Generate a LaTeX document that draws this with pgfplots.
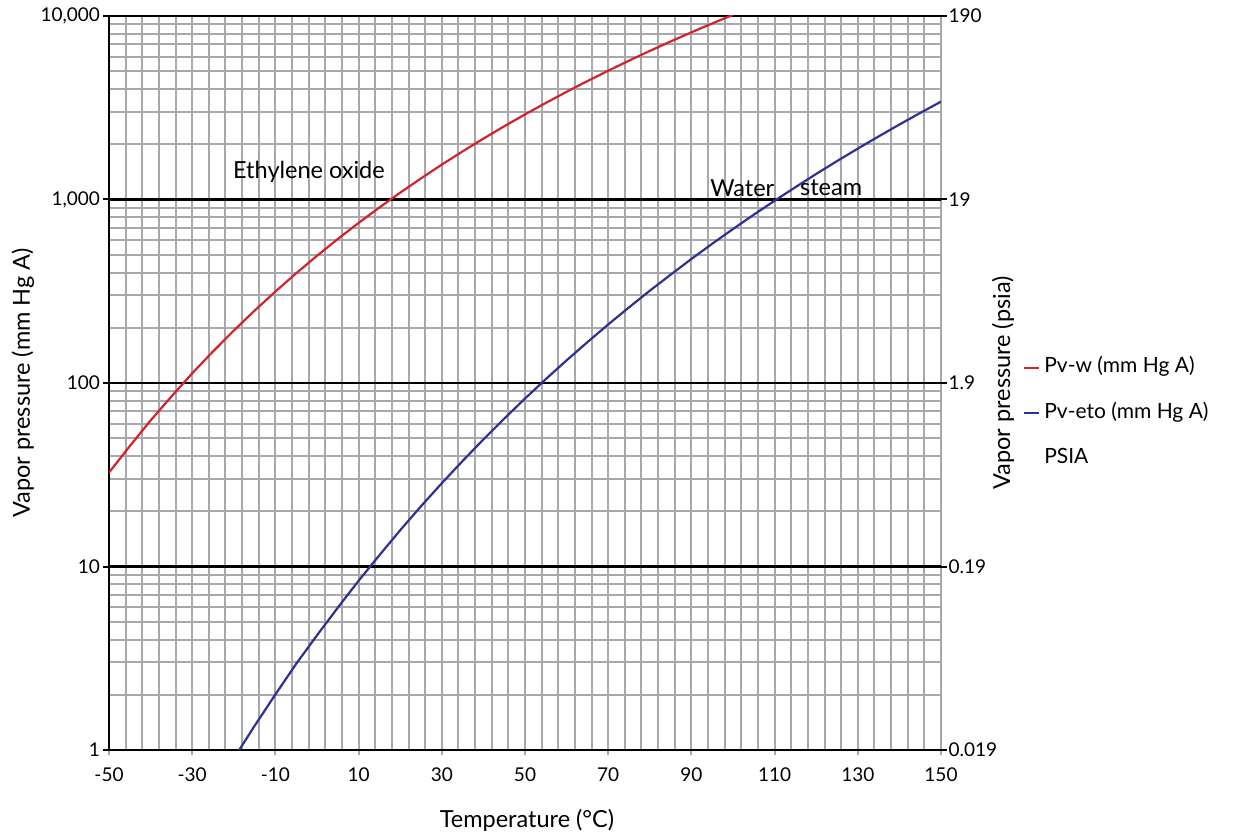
\documentclass[border=0pt]{standalone}
\usepackage{fontspec}
\setmainfont{Lato}
\usepackage{pgfplots}
\pgfplotsset{compat=1.18}
\definecolor{gridgray}{RGB}{166,168,171}
\definecolor{cred}{RGB}{210,35,42}
\definecolor{cblue}{RGB}{46,49,146}
\newcommand{\tickfont}{\fontsize{19}{22}\selectfont}
\newcommand{\labfont}{\fontsize{23.5}{28}\selectfont}
\newcommand{\legfont}{\fontsize{21}{25}\selectfont}
\begin{document}
\begin{tikzpicture}
\path[use as bounding box] (-109pt,-81pt) rectangle (1125pt,750pt);
\begin{axis}[
  at={(0pt,0pt)}, anchor=south west,
  scale only axis, width=832pt, height=734pt,
  xmin=-50, xmax=150,
  ymode=log, ymin=1, ymax=10000,
  xtick={-50,-30,-10,10,30,50,70,90,110,130,150},
  xticklabels={-50,-30,-10,10,30,50,70,90,110,130,150},
  minor xtick={-46,-42,...,146},
  ytick={1,10,100,1000,10000},
  yticklabels={1,10,100,{1,000},{10,000}},
  axis x line*=bottom, axis y line*=left,
  axis line style={black, line width=2.5pt},
  xmajorgrids, xminorgrids, ymajorgrids, yminorgrids,
  major x grid style={gridgray, line width=2pt},
  minor x grid style={gridgray, line width=2pt},
  major y grid style={black, line width=2.5pt},
  minor y grid style={gridgray, line width=2pt},
  tick align=outside,
  major tick length=5.5pt, minor tick length=0pt,
  x tick style={gridgray, line width=2pt},
  y tick style={black, line width=2pt},
  tick label style={font=\tickfont},
  xticklabel style={yshift=-9pt},
  yticklabel style={xshift=0pt},
  xlabel={Temperature (°C)},
  ylabel={Vapor pressure (mm Hg A)},
  xlabel style={at={(axis description cs:0.5024,-0.0954)}, anchor=center, font=\labfont},
  ylabel style={at={(axis description cs:-0.1034,0.5)}, anchor=center, font=\labfont},
  legend style={at={(axis description cs:1.0986,0.5375)}, anchor=north west, draw=none, fill=none, inner sep=0pt, row sep=21.5pt,
    font=\legfont,
    nodes={inner sep=2pt, text height=15pt, text depth=5pt}},
  legend cell align=left,
  legend image code/.code={\draw[#1, line width=2pt] (0pt,0pt) -- (15pt,0pt); \path (17pt,0pt);},
  clip=true,
]
\addplot[cred, line width=2.2pt] coordinates {
(-50,32.5) (-45,45.3) (-40,62.5) (-35,84.4) (-30,112.9) (-25,148.5) (-20,193.1) (-15,248.0) (-10,315.0) (-5,396.4) (0,493.4)
(5,609.2) (10,745.1) (15,904.3) (20,1089.5) (25,1303) (30,1548.8) (35,1829) (40,2146.5) (45,2505) (50,2908.5)
(55,3359) (60,3862) (65,4419) (70,5033) (75,5710) (80,6452) (85,7263) (90,8148) (95,9106) (100,10144)
};
\addlegendentry{Pv-w (mm Hg A)}
\addplot[cblue, line width=2.2pt] coordinates {
(-18.7,1.0) (-15,1.354) (-10,2.008) (-5,2.95) (0,4.217) (5,5.97) (10,8.362) (15,11.52) (20,15.77) (25,21.3) (30,28.44)
(35,37.6) (40,49.26) (45,63.9) (50,82.27) (55,105.0) (60,132.9) (65,166.9) (70,208.5) (75,258.3) (80,318.4)
(85,389.3) (90,474.2) (95,573.9) (100,690.4) (105,826.3) (110,984.5) (115,1167) (120,1377.6) (125,1619) (130,1894)
(135,2206) (140,2562) (145,2962) (150,3414)
};
\addlegendentry{Pv-eto (mm Hg A)}
\addlegendimage{white}
\addlegendentry{PSIA}
\node[anchor=west, inner sep=0pt, font=\labfont] at (axis cs:-20.2,1413) {Ethylene oxide};
\node[anchor=west, inner sep=0pt, font=\labfont] at (axis cs:94.5,1156) {Water};
\node[anchor=west, inner sep=0pt, font=\labfont] at (axis cs:116.1,1156) {steam};
\end{axis}
\begin{axis}[
  at={(0pt,0pt)}, anchor=south west,
  scale only axis, width=832pt, height=734pt,
  xmin=-50, xmax=150, hide x axis,
  ymode=log, ymin=0.019, ymax=190,
  axis y line*=right,
  axis line style={draw=none},
  ytick={0.019,0.19,1.9,19,190},
  yticklabels={0.019,0.19,1.9,19,190},
  yminorticks=false,
  tick align=outside,
  major tick length=5.5pt,
  y tick style={black, line width=2pt},
  tick label style={font=\tickfont},
  yticklabel style={xshift=-1.5pt},
  ylabel={Vapor pressure (psia)},
  ylabel style={at={(axis description cs:1.0745,0.5)}, anchor=center, font=\labfont},
]
\addplot[draw=none] coordinates {(0,1)};
\end{axis}
\end{tikzpicture}
\end{document}
